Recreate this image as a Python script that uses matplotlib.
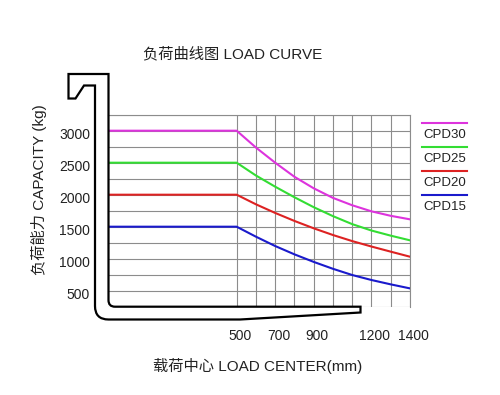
import matplotlib
matplotlib.use('Agg')
import matplotlib.pyplot as plt
from matplotlib.path import Path
from matplotlib.patches import PathPatch
from matplotlib.lines import Line2D
from matplotlib.ticker import FixedLocator
import matplotlib.transforms as mtransforms

plt.rcParams['font.family'] = ['Liberation Sans', 'Noto Sans CJK SC', 'DejaVu Sans']

# ---------------- data ----------------
title = '负荷曲线图 LOAD CURVE'
xlabel = '载荷中心 LOAD CENTER(mm)'
ylabel = '负荷能力 CAPACITY (kg)'

series_names = ['CPD30', 'CPD25', 'CPD20', 'CPD15']
load_center = [500, 600, 700, 800, 900, 1000, 1100, 1200, 1300, 1400]
cpd30 = [3000, 2737, 2500, 2280, 2100, 1950, 1835, 1740, 1670, 1615]
cpd25 = [2500, 2300, 2125, 1960, 1805, 1665, 1540, 1440, 1360, 1287]
cpd20 = [2000, 1850, 1715, 1590, 1475, 1370, 1275, 1190, 1110, 1031]
cpd15 = [1500, 1344, 1198, 1068, 950, 842, 745, 667, 599, 536]
x_ticks = [500, 700, 900, 1200, 1400]
y_ticks = [500, 1000, 1500, 2000, 2500, 3000]
x_grid = [500, 600, 700, 800, 900, 1000, 1100, 1200, 1300, 1400]
y_grid = [250, 500, 750, 1000, 1250, 1500, 1750, 2000, 2250, 2500, 2750, 3000, 3250]

# ---------------- style / layout ----------------
series_values = [cpd30, cpd25, cpd20, cpd15]
series_colors = ['#dd33dd', '#33dd33', '#dd2222', '#1a1acc']
x_left = -168
W, H = 500, 395


def fx(x):
    return x / W


def fy(y):
    return 1 - y / H


fig = plt.figure(figsize=(W / 100, H / 100), dpi=100)
ax = fig.add_axes([fx(108), fy(306.7), (410 - 108) / W, (306.7 - 114.7) / H])

for vals, col in zip(series_values, series_colors):
    ax.plot([x_left] + load_center, [vals[0]] + vals, color=col, lw=1.5,
            solid_joinstyle='round', zorder=3)

ax.set_xlim(x_left, 1400)
ax.set_ylim(250, 3250)
ax.xaxis.set_major_locator(FixedLocator(x_ticks))
ax.xaxis.set_minor_locator(FixedLocator(x_grid))
ax.yaxis.set_major_locator(FixedLocator(y_ticks))
ax.yaxis.set_minor_locator(FixedLocator(y_grid))
ax.set_xticklabels([str(v) for v in x_ticks])
ax.set_yticklabels([str(v) for v in y_ticks])
ax.grid(which='both', color='#8c8c8c', lw=0.8)
ax.tick_params(axis='both', which='both', length=0, labelsize=10, colors='#222222')
ax.tick_params(axis='y', pad=13)
ax.tick_params(axis='x', pad=16)
for s in ['left', 'bottom']:
    ax.spines[s].set_visible(False)
for s in ['top', 'right']:
    ax.spines[s].set_color('#8c8c8c')
    ax.spines[s].set_linewidth(0.8)

offy = mtransforms.ScaledTranslation(0, -3 / 100, fig.dpi_scale_trans)
for lab in ax.get_yticklabels():
    lab.set_transform(lab.get_transform() + offy)
offx = mtransforms.ScaledTranslation(3.5 / 100, 0, fig.dpi_scale_trans)
for lab in ax.get_xticklabels():
    lab.set_transform(lab.get_transform() + offx)

# fork outline (decoration)
M, L, C, Z = Path.MOVETO, Path.LINETO, Path.CURVE3, Path.CLOSEPOLY
pts = [
    ((108.5, 74), M), ((68.5, 74), L), ((68.5, 98.5), L), ((75.5, 98.5), L),
    ((84, 85.5), L), ((95, 85.5), L), ((95, 306), L),
    ((95, 319.5), C), ((108.5, 319.5), C),
    ((240, 319.5), L), ((360.5, 312.5), L), ((360.5, 306.7), L), ((115, 306.7), L),
    ((108.5, 306.7), C), ((108.5, 300.2), C),
    ((108.5, 74), L), ((108.5, 74), Z),
]
verts = [(fx(p[0]), fy(p[1])) for p, _ in pts]
codes = [c for _, c in pts]
fig.patches.append(PathPatch(Path(verts, codes), fill=False, ec='black', lw=1.6,
                             transform=fig.transFigure, zorder=5))

# legend
for i, (name, col) in enumerate(zip(series_names, series_colors)):
    yl = 123.3 + 23.8 * i
    fig.add_artist(Line2D([fx(421.7), fx(466.7)], [fy(yl), fy(yl)], color=col, lw=1.5,
                          transform=fig.transFigure))
    fig.text(fx(445), fy(yl + 12), name, ha='center', va='center', fontsize=9.5,
             color='#222222')

fig.text(fx(233), fy(54.5), title, ha='center', va='center', fontsize=11, color='#222222')
fig.text(fx(39), fy(190), ylabel, ha='center', va='center', rotation=90, fontsize=11,
         color='#222222')
fig.text(fx(258), fy(366), xlabel, ha='center', va='center', fontsize=11, color='#222222')

fig.savefig('out.png', dpi=100)
